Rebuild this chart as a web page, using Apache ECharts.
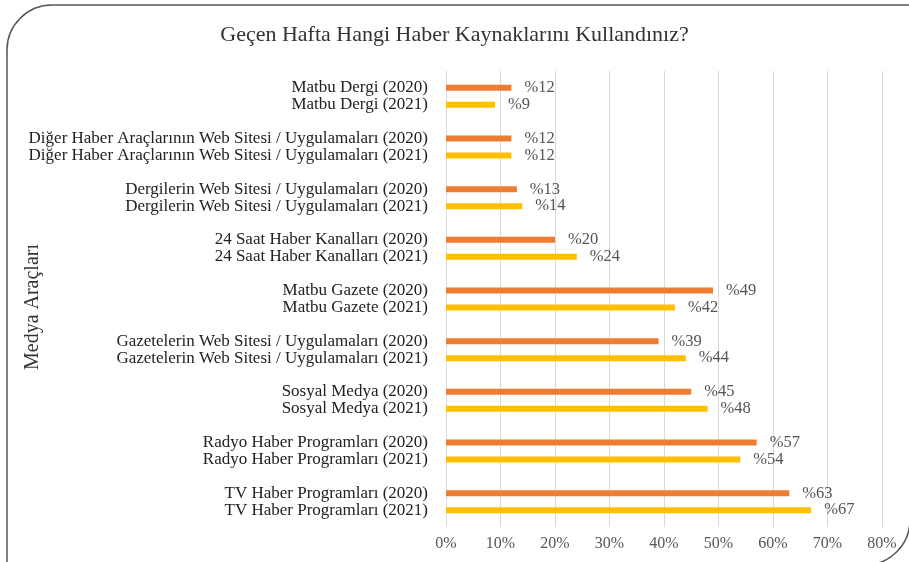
<!DOCTYPE html>
<html>
<head>
<meta charset="utf-8">
<script src="https://cdn.jsdelivr.net/npm/echarts@6/dist/echarts.min.js"></script>
<style>
  html, body { margin: 0; padding: 0; background: #fff; }
  #main { width: 909px; height: 562px; }
</style>
</head>
<body>
<div id="main"></div>
<script>
// medya araçları (yukarıdan aşağıya)
var categories = [
    'Matbu Dergi',
    'Diğer Haber Araçlarının Web Sitesi / Uygulamaları',
    'Dergilerin Web Sitesi / Uygulamaları',
    '24 Saat Haber Kanalları',
    'Matbu Gazete',
    'Gazetelerin Web Sitesi / Uygulamaları',
    'Sosyal Medya',
    'Radyo Haber Programları',
    'TV Haber Programları'
];
var years = ['2020', '2021'];
var values2020 = [12, 12, 13, 20, 49, 39, 45, 57, 63];
var values2021 = [9, 12, 14, 24, 42, 44, 48, 54, 67];
var xTicks = [0, 10, 20, 30, 40, 50, 60, 70, 80];

var serif = 'Liberation Serif';
var myChart = echarts.init(document.getElementById('main'));

function barSeries(name, data, color) {
    return {
        name: name,
        type: 'bar',
        data: data,
        barWidth: 6,
        barGap: '183%',
        itemStyle: { color: color },
        label: {
            show: true,
            position: 'right',
            distance: 13,
            fontFamily: serif,
            fontSize: 16.5,
            color: '#555',
            formatter: function (p) { return '%' + p.value; }
        }
    };
}

var option = {
    animation: false,
    title: {
        text: 'Geçen Hafta Hangi Haber Kaynaklarını Kullandınız?',
        left: 'center',
        top: 19,
        textStyle: { fontFamily: serif, fontSize: 22, fontWeight: 'normal', color: '#333' }
    },
    grid: { left: 446, right: 27, top: 71, height: 456 },
    xAxis: {
        type: 'value',
        min: xTicks[0],
        max: xTicks[xTicks.length - 1],
        interval: 10,
        axisLine: { show: false },
        axisTick: { show: false },
        splitLine: { lineStyle: { color: '#d9d9d9', width: 1 } },
        axisLabel: {
            margin: 9,
            fontFamily: serif,
            fontSize: 16,
            color: '#555',
            formatter: '{value}%'
        }
    },
    yAxis: {
        type: 'category',
        inverse: true,
        data: categories,
        name: 'Medya Araçları',
        nameLocation: 'middle',
        nameRotate: 90,
        nameGap: 403,
        nameMoveOverlap: false,
        nameTextStyle: { fontFamily: serif, fontSize: 20, color: '#333', padding: [0, 16, 0, 0] },
        axisLine: { show: false },
        axisTick: { show: false },
        axisLabel: {
            margin: 18,
            fontFamily: serif,
            fontSize: 17,
            lineHeight: 17,
            color: '#222',
            align: 'right',
            formatter: function (v) {
                return v + ' (' + years[0] + ')\n' + v + ' (' + years[1] + ')';
            }
        }
    },
    series: [
        barSeries(years[0], values2020, '#ED7D31'),
        barSeries(years[1], values2021, '#FFC000')
    ],
    graphic: [{
        type: 'rect',
        silent: true,
        shape: { x: 7, y: 5, width: 903, height: 560, r: [45, 0, 45, 0] },
        style: { fill: 'none', stroke: '#555', lineWidth: 1.5 }
    }]
};

myChart.setOption(option);
</script>
</body>
</html>
